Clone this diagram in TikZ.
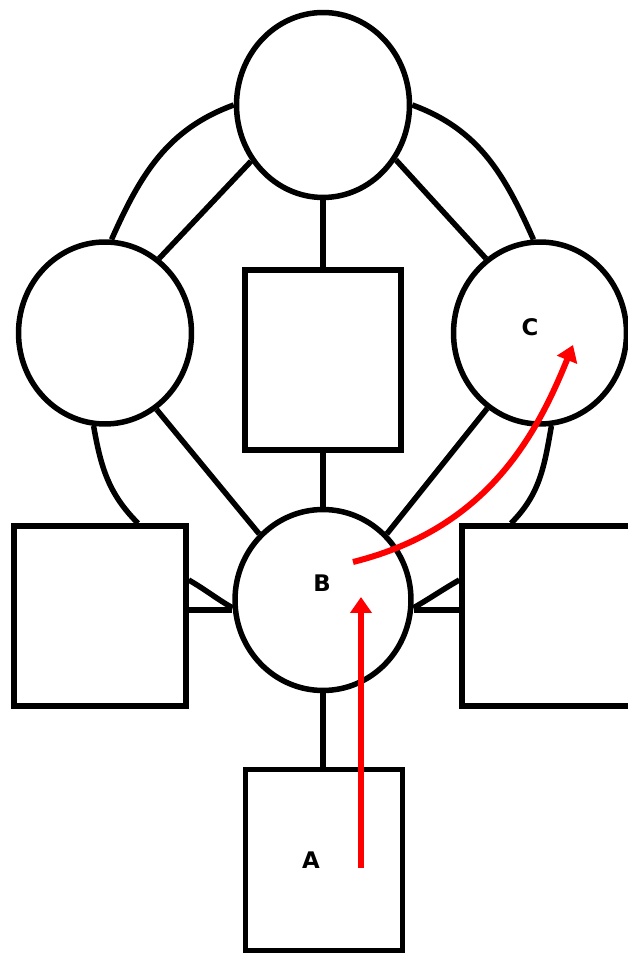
\documentclass[tikz,border=0pt]{standalone}
\usepackage{fontspec}
\newfontfamily\lblfont{DejaVu Sans}
\usepackage{xcolor}
\usetikzlibrary{shapes.geometric,arrows.meta}
\definecolor{movered}{RGB}{255, 0, 0}

\begin{document}
\begin{tikzpicture}[x=0.02cm, y=0.02cm, line width=0.11cm,
    ring/.style={draw, ellipse, inner sep=0pt},
    box/.style={draw, rectangle, inner sep=0pt},
    lbl/.style={font=\lblfont\bfseries\fontsize{13}{15}\selectfont},
    move/.style={movered, line width=0.12cm, -{Triangle[length=0.32cm, width=0.42cm]}}]
    \useasboundingbox[fill=white] (0,0) rectangle (628,954);
    % circles
    \node[ring, minimum width=3.46cm, minimum height=3.7cm] (T) at (323,849) {};
    \node[ring, minimum width=3.46cm, minimum height=3.64cm] (L) at (105,621) {};
    \node[ring, minimum width=3.46cm, minimum height=3.64cm] (R) at (540,621) {};
    \node[ring, minimum width=3.52cm, minimum height=3.62cm] (B) at (323,354) {};
    % boxes
    \node[box, minimum width=3.12cm, minimum height=3.6cm] (M) at (323,594) {};
    \node[box, minimum width=3.44cm, minimum height=3.6cm] (LR) at (100,338) {};
    \node[box, minimum width=3.44cm, minimum height=3.6cm] (RR) at (548,338) {};
    \node[box, minimum width=3.14cm, minimum height=3.62cm] (A) at (324,94) {};
    % straight links
    \draw (T.218) -- (L.54);
    \draw (T.323) -- (R.126);
    \draw (T.south) -- (M.north);
    \draw (M.south) -- (B.north);
    \draw (L.304) -- (B.134);
    \draw (R.235) -- (B.46);
    \draw (B.south) -- (B.south |- A.north);
    \coordinate (bl) at ([yshift=-0.2cm]B.west);
    \coordinate (br) at ([yshift=-0.2cm]B.east);
    \draw (bl) -- (bl -| LR.east);
    \draw (br) -- (br -| RR.west);
    % outer ring
    \draw (T.west) to[out=200, in=66] (L.86);
    \draw (L.263) to[out=-80, in=135] ([xshift=0.76cm]LR.north);
    \draw ([yshift=0.72cm]LR.east) to[out=-30, in=150] (B.185);
    \draw (T.east) to[out=-20, in=114] (R.94);
    \draw (R.277) to[out=260, in=45] ([xshift=-0.74cm]RR.north);
    \draw ([yshift=0.72cm]RR.west) to[out=210, in=30] (B.355);
    % labels
    \node[lbl] (la) at (311,94) {A};
    \node[lbl] (lb) at (322,371) {B};
    \node[lbl] (lc) at (530,627) {C};
    % moves
    \coordinate (a0) at (361,86);
    \coordinate (b0) at (361,357);
    \coordinate (b1) at (353,392);
    \coordinate (c0) at (573,609);
    \draw[move] (a0) -- (b0);
    \draw[move] (b1) .. controls (485,425) and (535,515) .. (c0);
\end{tikzpicture}
\end{document}
